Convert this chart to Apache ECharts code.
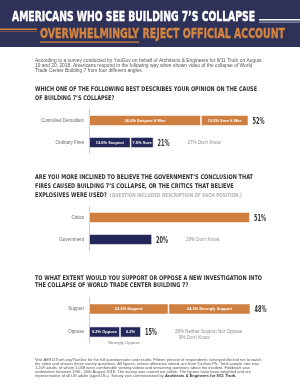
<!DOCTYPE html>
<html><head><meta charset="utf-8">
<script src="https://cdn.jsdelivr.net/npm/echarts@6/dist/echarts.min.js"></script>
<style>html,body{margin:0;padding:0;background:#fff}#c{width:300px;height:388px}</style>
</head><body><div id="c"></div>
<script>
// ---- data ----
const categories1 = ['Controlled Demolition', 'Ordinary Fires'];
const q1SegA = [36.6, 13.6];
const q1SegALabels = ['36.6% Suspect It Was', '13.6% Suspect'];
const q1SegB = [15.5, 7.5];
const q1SegBLabels = ['15.5% Sure It Was', '7.5% Sure'];
const q1Totals = ['52%', '21%'];
const q1Notes = ['', "27% Don't Know"];

const categories2 = ['Critics', 'Government'];
const q2Values = [51, 20];
const q2Totals = ['51%', '20%'];
const q2Notes = ['', "29% Don't Know"];

const categories3 = ['Support', 'Oppose'];
const q3SegA = [23.6, 9.2];
const q3SegALabels = ['23.6% Support', '9.2% Oppose'];
const q3SegB = [24.3, 6.2];
const q3SegBLabels = ['24.3% Strongly Support', '6.2%'];
const q3Totals = ['48%', '15%'];
const q3Notes = ['', '28% Neither Support Nor Oppose'];
const q3Notes2 = ['', "9% Don't Know"];

const title1 = "AMERICANS WHO SEE BUILDING 7\u2019S COLLAPSE";
const title2 = "OVERWHELMINGLY REJECT OFFICIAL ACCOUNT";
const introLines = [
  'According to a survey conducted by YouGov on behalf of Architects & Engineers for 9/11 Truth on August',
  '19 and 20, 2018, Americans respond in the following way when shown video of the collapse of World',
  'Trade Center Building 7 from four different angles.'
];
const q1Lines = ['WHICH ONE OF THE FOLLOWING BEST DESCRIBES YOUR OPINION ON THE CAUSE', "OF BUILDING 7\u2019S COLLAPSE?"];
const q2Lines = ["ARE YOU MORE INCLINED TO BELIEVE THE GOVERNMENT\u2019S CONCLUSION THAT", "FIRES CAUSED BUILDING 7\u2019S COLLAPSE, OR THE CRITICS THAT BELIEVE", 'EXPLOSIVES WERE USED?'];
const q2Note = '(QUESTION INCLUDED DESCRIPTION OF EACH POSITION.)';
const q3Lines = ['TO WHAT EXTENT WOULD YOU SUPPORT OR OPPOSE A NEW INVESTIGATION INTO', 'THE COLLAPSE OF WORLD TRADE CENTER BUILDING 7?'];
const footerLines = [
  'Visit AE911Truth.org/YouGov for the full questionnaire and results. Fifteen percent of respondents surveyed elected not to watch',
  'the video and answer these survey questions. All figures, unless otherwise stated, are from YouGov Plc. Total sample size was',
  '1,209 adults, of whom 1,058 were comfortable viewing videos and answering questions about the incident. Fieldwork was',
  'undertaken between 19th - 20th August 2018. The survey was carried out online. The figures have been weighted and are',
  'representative of all US adults (aged 18+). Survey was commissioned by '
];
const footerBold = 'Architects & Engineers for 9/11 Truth.';

// ---- style ----
const ORANGE = '#cf7f3f';
const NAVY = '#23275a';
const BAND = '#2e3259';
const rowColors = [ORANGE, NAVY];
const COND = "'DejaVu Sans','Liberation Sans',sans-serif";
const SANS = "'Liberation Sans',Arial,Helvetica,sans-serif";

const ctx = document.createElement('canvas').getContext('2d');
function fit(text, weight, fam, w) { ctx.font = weight + ' 100px ' + fam; return 100 * w / ctx.measureText(text).width; }
function tw(text, weight, size, fam) { ctx.font = weight + ' ' + size + 'px ' + fam; return ctx.measureText(text).width; }

const introSize = fit(introLines[0], 'normal', SANS, 227);
const footSize = fit(footerLines[0], 'normal', SANS, 227);

function txt(text, x, y, size, fam, weight, fill, align) {
  return { type: 'text', silent: true, style: { text: text, x: x, y: y, fontSize: size, fontFamily: fam, fontWeight: weight, fill: fill,
    align: align || 'left', textAlign: align || 'left', verticalAlign: 'middle', textVerticalAlign: 'middle' } };
}
// condensed text: real font, horizontally squeezed
function stxt(text, x, y, size, fill, sx, strokeW) {
  const st = { text: text, x: 0, y: 0, fontSize: size, fontFamily: COND, fontWeight: 'bold', fill: fill,
    align: 'left', textAlign: 'left', verticalAlign: 'middle', textVerticalAlign: 'middle' };
  if (strokeW) { st.stroke = fill; st.lineWidth = strokeW; }
  return { type: 'text', silent: true, x: x, y: y, scaleX: sx, z: 10, style: st };
}
function scaleFor(text, size, target) { return target / tw(text, 'bold', size, COND); }

const T_SIZE = 14;
const t1sx = scaleFor(title1, T_SIZE, 243);
const t2sx = scaleFor(title2, T_SIZE, 245);
const owW = tw('OVERWHELMINGLY', 'bold', T_SIZE, COND) * t2sx;
const Q_SIZE = 6.4;
const q1sx = scaleFor(q1Lines[0], Q_SIZE, 222);
const q2sx = scaleFor(q2Lines[0], Q_SIZE, 218);
const q3sx = scaleFor(q3Lines[0], Q_SIZE, 227);
const q2l3w = tw(q2Lines[2], 'bold', Q_SIZE, COND) * q2sx;
const N_SIZE = 5.6;
const q2nsx = scaleFor(q2Note, N_SIZE, 132);
const TOT_SIZE = 9.5;
const totsx = scaleFor('52%', TOT_SIZE, 12);

const graphics = [
  { type: 'rect', silent: true, shape: { x: 0, y: 0, width: 300, height: 47 }, style: { fill: BAND } },
  stxt(title1, 12, 17, T_SIZE, '#ffffff', t1sx, 0.5),
  { type: 'rect', silent: true, shape: { x: 259, y: 19, width: 41, height: 1.6 }, style: { fill: '#ffffff' } },
  { type: 'rect', silent: true, shape: { x: 259, y: 21.8, width: 41, height: 0.6 }, style: { fill: '#c9cbe0' } },
  stxt(title2, 40, 34, T_SIZE, '#d4843f', t2sx, 0.4),
  { type: 'rect', silent: true, shape: { x: 0, y: 28.4, width: 37, height: 1.5 }, style: { fill: '#d4843f' } },
  { type: 'rect', silent: true, shape: { x: 0, y: 31, width: 37, height: 0.6 }, style: { fill: '#b87240' } },
  { type: 'rect', silent: true, shape: { x: 40, y: 41.5, width: owW, height: 1.2 }, style: { fill: '#d4843f' } }
];
introLines.forEach((l, i) => graphics.push(txt(l, 35, 60.5 + i * 5.3, introSize, SANS, 'normal', '#555')));
q1Lines.forEach((l, i) => graphics.push(stxt(l, 35, 89.5 + i * 8.5, Q_SIZE, '#333', q1sx)));
q2Lines.forEach((l, i) => graphics.push(stxt(l, 35, 177.5 + i * 9, Q_SIZE, '#333', q2sx)));
graphics.push(stxt(q2Note, 35 + q2l3w + 3, 195.8, N_SIZE, '#b3b3b3', q2nsx));
q3Lines.forEach((l, i) => graphics.push(stxt(l, 35, 278 + i * 7.8, Q_SIZE, '#333', q3sx)));
graphics.push(txt('Strongly Oppose', 124, 342.5, 4.3, SANS, 'normal', '#777', 'center'));
footerLines.forEach((l, i) => {
  if (i < footerLines.length - 1) {
    graphics.push(txt(l, 35, 359.5 + i * 4.1, footSize, SANS, 'normal', '#555'));
  } else {
    graphics.push({ type: 'text', silent: true, style: { text: '{a|' + l + '}{b|' + footerBold + '}', x: 35, y: 359.5 + i * 4.1,
      align: 'left', verticalAlign: 'middle', textAlign: 'left', textVerticalAlign: 'middle',
      rich: { a: { fontSize: footSize, fontFamily: SANS, fill: '#555', color: '#555' },
              b: { fontSize: footSize, fontFamily: SANS, fontWeight: 'bold', fill: '#333', color: '#333' } } } });
  }
});

const segLabel = (labels) => ({ show: true, position: 'inside', color: '#fff', fontSize: 4, fontWeight: 'bold', fontFamily: SANS,
  formatter: p => labels[p.dataIndex] });
const itemStyle = { color: p => rowColors[p.dataIndex], borderColor: 'rgba(255,255,255,0.75)', borderWidth: 0.8 };

const q1Ends = q1SegA.map((v, i) => v + q1SegB[i]);
const q3Ends = q3SegA.map((v, i) => v + q3SegB[i]);

const option = {
  animation: false,
  backgroundColor: '#ffffff',
  grid: [
    { left: 89, top: 109.5, width: 60 * 3.06, height: 44 },
    { left: 89, top: 206.5, width: 60 * 3.155, height: 44 },
    { left: 89, top: 297.5, width: 60 * 3.37, height: 46 }
  ],
  xAxis: [0, 1, 2].map(i => ({ type: 'value', gridIndex: i, min: 0, max: 60, show: false })),
  yAxis: [categories1, categories2, categories3].map((c, i) => ({
    type: 'category', gridIndex: i, data: c, inverse: true,
    axisLine: { show: true, lineStyle: { color: '#cccccc', width: 1 } }, axisTick: { show: false },
    axisLabel: { color: '#666', fontSize: 4.5, fontFamily: SANS, margin: 5 }
  })),
  series: [
    { type: 'bar', xAxisIndex: 0, yAxisIndex: 0, stack: 's1', barWidth: 11, data: q1SegA, itemStyle: itemStyle, label: segLabel(q1SegALabels) },
    { type: 'bar', xAxisIndex: 0, yAxisIndex: 0, stack: 's1', barWidth: 11, data: q1SegB, itemStyle: itemStyle, label: segLabel(q1SegBLabels) },
    { type: 'bar', xAxisIndex: 1, yAxisIndex: 1, barWidth: 11, data: q2Values, itemStyle: itemStyle },
    { type: 'bar', xAxisIndex: 2, yAxisIndex: 2, stack: 's3', barWidth: 11, data: q3SegA, itemStyle: itemStyle, label: segLabel(q3SegALabels) },
    { type: 'bar', xAxisIndex: 2, yAxisIndex: 2, stack: 's3', barWidth: 11, data: q3SegB, itemStyle: itemStyle, label: segLabel(q3SegBLabels) }
  ]
};
const chart = echarts.init(document.getElementById('c'), null, { renderer: 'canvas' });
chart.setOption(option);

// totals and notes placed at the bar ends through the chart's own scales
function addTotals(gi, ends, totals, notes, notes2) {
  ends.forEach((v, i) => {
    const p = chart.convertToPixel({ gridIndex: gi }, [v, i]);
    const x0 = p[0] + 4, y0 = p[1] + 1;
    graphics.push(stxt(totals[i], x0, y0, TOT_SIZE, '#333', totsx));
    const tW = tw(totals[i], 'bold', TOT_SIZE, COND) * totsx;
    if (notes[i]) graphics.push(txt(notes[i], x0 + tW + 18, p[1], 4.5, SANS, 'normal', '#8a8a8a'));
    if (notes2 && notes2[i]) graphics.push(txt(notes2[i], x0 + tW + 22, p[1] + 5.3, 4.5, SANS, 'normal', '#8a8a8a'));
  });
}
addTotals(0, q1Ends, q1Totals, q1Notes);
addTotals(1, q2Values, q2Totals, q2Notes);
addTotals(2, q3Ends, q3Totals, q3Notes, q3Notes2);
chart.setOption({ graphic: { elements: graphics } });
</script></body></html>
